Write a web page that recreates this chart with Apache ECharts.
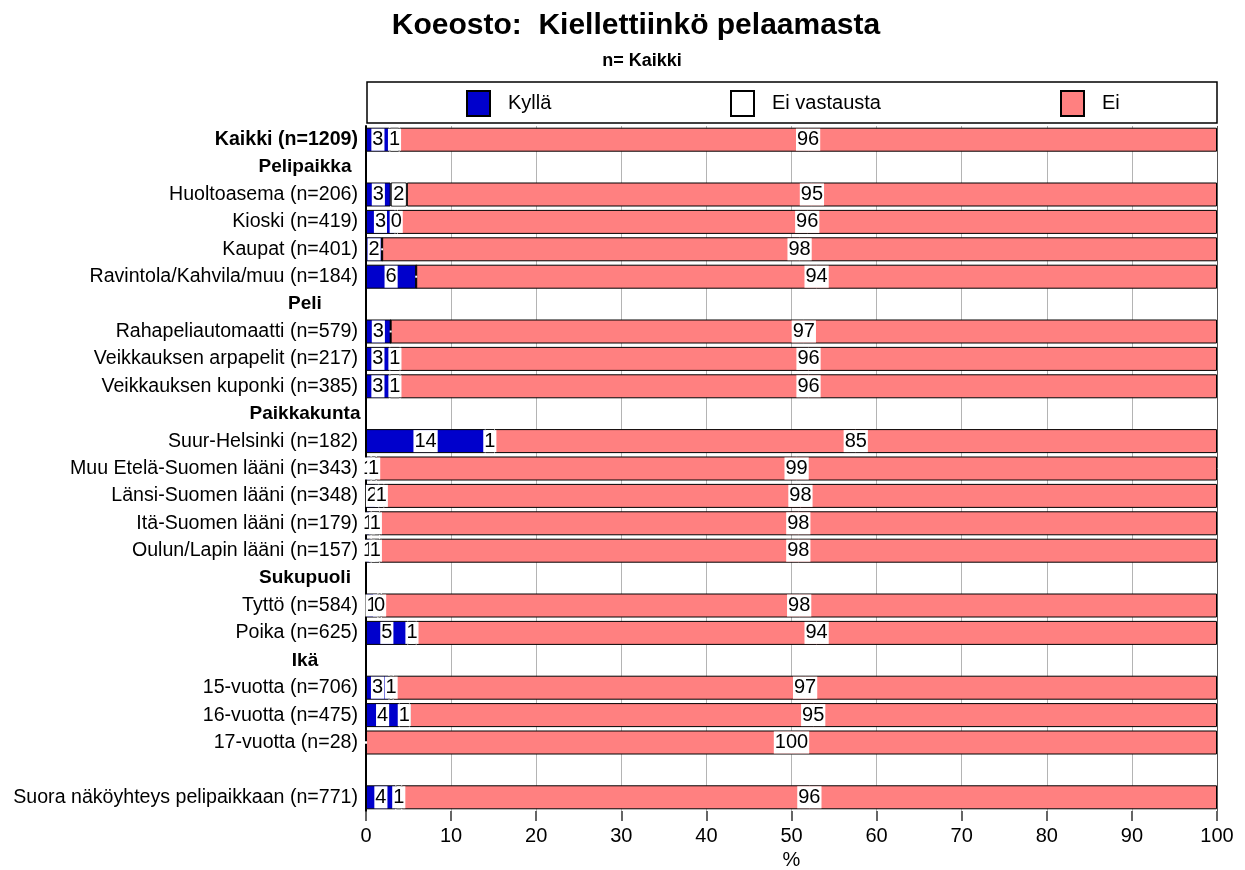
<!DOCTYPE html>
<html>
<head>
<meta charset="utf-8">
<script src="https://cdn.jsdelivr.net/npm/echarts@6/dist/echarts.min.js"></script>
<style>
  html, body { margin: 0; padding: 0; background: #fff; }
  #main { width: 1245px; height: 870px; }
</style>
</head>
<body>
<div id="main"></div>
<script>
// rivit ylhäältä alas
var categories = ['Kaikki (n=1209)', 'Pelipaikka', 'Huoltoasema (n=206)', 'Kioski (n=419)', 'Kaupat (n=401)',
    'Ravintola/Kahvila/muu (n=184)', 'Peli', 'Rahapeliautomaatti (n=579)', 'Veikkauksen arpapelit (n=217)',
    'Veikkauksen kuponki (n=385)', 'Paikkakunta', 'Suur-Helsinki (n=182)', 'Muu Etelä-Suomen lääni (n=343)',
    'Länsi-Suomen lääni (n=348)', 'Itä-Suomen lääni (n=179)', 'Oulun/Lapin lääni (n=157)', 'Sukupuoli',
    'Tyttö (n=584)', 'Poika (n=625)', 'Ikä', '15-vuotta (n=706)', '16-vuotta (n=475)', '17-vuotta (n=28)', '',
    'Suora näköyhteys pelipaikkaan (n=771)'];
var headers = ['Pelipaikka', 'Peli', 'Paikkakunta', 'Sukupuoli', 'Ikä'];

var kylla = [2.8, null, 2.9, 3.4, 1.9, 5.9, null, 2.9, 2.8, 2.8, null, 14.0, 0.6, 1.5, 0.6, 0.6, null, 1.4, 4.9, null, 2.7, 3.9, 0, null, 3.5];
var eiVastausta = [1.1, null, 1.9, 0.3, 0, 0, null, 0, 1.2, 1.2, null, 1.1, 0.6, 0.6, 1.0, 1.0, null, 0.4, 1.0, null, 0.5, 1.2, 0, null, 0.7];
var ei = [96.1, null, 95.2, 96.3, 98.1, 94.1, null, 97.1, 96.0, 96.0, null, 84.9, 98.8, 97.9, 98.4, 98.4, null, 98.2, 94.1, null, 96.8, 94.9, 100, null, 95.8];

var xTicks = [0, 10, 20, 30, 40, 50, 60, 70, 80, 90, 100];

var font = 'Liberation Sans, Arial, sans-serif';

var barLabel = {
    show: true,
    position: 'inside',
    color: '#000',
    fontSize: 20,
    fontFamily: font,
    backgroundColor: '#fff',
    padding: [2, 1, 0, 1],
    formatter: function (p) {
        if (p.value == null || p.value <= 0) return '';
        return Math.round(p.value);
    }
};

function makeSeries(name, data, color) {
    return {
        name: name,
        type: 'bar',
        stack: 'all',
        data: data,
        barWidth: 24,
        itemStyle: { color: color, borderColor: '#000', borderWidth: 1 },
        label: barLabel,
        emphasis: { disabled: true }
    };
}

function legendAt(name, left) {
    return {
        data: [name],
        left: left,
        top: 90,
        padding: 0,
        itemWidth: 23,
        itemHeight: 25,
        icon: 'rect',
        selectedMode: false,
        textStyle: { fontSize: 20, fontFamily: font, color: '#000', padding: [0, 0, 0, 13] }
    };
}

var gridColors = xTicks.map(function (t) { return t === 100 ? '#555' : '#b4b4b4'; });

var option = {
    backgroundColor: '#fff',
    animation: false,
    title: [
        {
            text: 'Koeosto:  Kiellettiinkö pelaamasta',
            left: 631, top: 6, textAlign: 'center',
            textStyle: { fontSize: 30, fontWeight: 'bold', fontFamily: font, color: '#000' }
        },
        {
            text: 'n= Kaikki',
            left: 637, top: 47, textAlign: 'center',
            textStyle: { fontSize: 18, fontWeight: 'bold', fontFamily: font, color: '#000' }
        }
    ],
    legend: [
        legendAt('Kyllä', 466),
        legendAt('Ei vastausta', 730),
        legendAt('Ei', 1060)
    ],
    graphic: [
        {
            type: 'rect',
            shape: { x: 367, y: 82, width: 850, height: 41 },
            style: { fill: 'none', stroke: '#000', lineWidth: 1.5 },
            z: -1
        }
    ],
    grid: { left: 366, right: 28, top: 126, bottom: 59, containLabel: false, outerBoundsMode: 'none' },
    xAxis: {
        type: 'value',
        min: 0, max: 100, interval: 10,
        name: '%',
        nameLocation: 'middle',
        nameGap: 38,
        nameTextStyle: { fontSize: 20, fontFamily: font, color: '#000' },
        axisLine: { show: false },
        axisTick: { show: true, length: 10, lineStyle: { color: '#333', width: 1.5 } },
        axisLabel: { fontSize: 20, fontFamily: font, color: '#000', margin: 15 },
        splitLine: { show: true, lineStyle: { color: gridColors, width: 1 } }
    },
    yAxis: {
        type: 'category',
        inverse: true,
        data: categories,
        axisLine: { show: true, lineStyle: { color: '#000', width: 2 } },
        axisTick: { show: false },
        axisLabel: {
            fontSize: 19.6,
            fontFamily: font,
            color: '#000',
            margin: 8,
            formatter: function (v, i) {
                if (headers.indexOf(v) >= 0) return '{h|' + v + '}';
                if (i === 0) return '{b|' + v + '}';
                return v;
            },
            rich: {
                h: { fontSize: 19, fontFamily: font, fontWeight: 'bold', color: '#000', width: 106, align: 'center' },
                b: { fontSize: 19.6, fontFamily: font, fontWeight: 'bold', color: '#000' }
            }
        }
    },
    series: [
        makeSeries('Kyllä', kylla, '#0000cc'),
        makeSeries('Ei vastausta', eiVastausta, '#ffffff'),
        makeSeries('Ei', ei, '#ff8080')
    ]
};

var myChart = echarts.init(document.getElementById('main'));
myChart.setOption(option);
</script>
</body>
</html>
